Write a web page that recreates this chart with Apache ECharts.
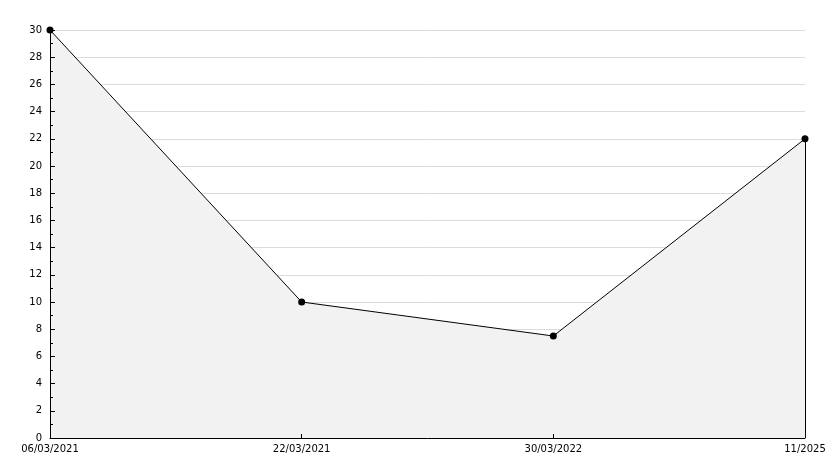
<!DOCTYPE html>
<html><head><meta charset="utf-8">
<script src="https://cdn.jsdelivr.net/npm/echarts@6/dist/echarts.min.js"></script>
<style>html,body{margin:0;padding:0;background:#fff}#c{width:834px;height:468px}</style>
</head><body><div id="c"></div>
<script>
const categories = ['06/03/2021', '22/03/2021', '30/03/2022', '11/2025'];
const values = [30, 10, 7.5, 22];
const yMin = 0, yMax = 30, yStep = 2;

const chart = echarts.init(document.getElementById('c'), null, {renderer: 'canvas'});
const font = 'DejaVu Sans';
chart.setOption({
  animation: false,
  backgroundColor: '#fff',
  grid: {left: 50, right: 29, top: 30, bottom: 30, containLabel: false},
  xAxis: {
    type: 'category', data: categories, boundaryGap: false, z: 10,
    axisLine: {lineStyle: {color: '#000', width: 1}},
    axisTick: {inside: true, length: 4, lineStyle: {color: '#000'}},
    axisLabel: {color: '#000', fontFamily: font, fontSize: 10, margin: 6, showMinLabel: true, showMaxLabel: true, interval: 0},
    splitLine: {show: false}
  },
  yAxis: [{
    type: 'value', min: yMin, max: yMax, interval: yStep, z: 0,
    axisLine: {show: false}, axisTick: {show: false}, axisLabel: {show: false},
    splitLine: {show: true, lineStyle: {color: '#dcdcdc', width: 1}}
  }, {
    type: 'value', min: yMin, max: yMax, interval: yStep, position: 'left', z: 10,
    axisLine: {show: true, lineStyle: {color: '#000', width: 1}},
    axisTick: {show: true, inside: true, length: 5, lineStyle: {color: '#000'}},
    minorTick: {show: true, splitNumber: 2, length: 3, lineStyle: {color: '#000'}},
    axisLabel: {color: '#000', fontFamily: font, fontSize: 10, margin: 8},
    splitLine: {show: false}
  }],
  series: [{
    type: 'line', data: values, yAxisIndex: 0,
    symbol: 'circle', symbolSize: 7,
    itemStyle: {color: '#000'},
    lineStyle: {color: '#000', width: 1},
    areaStyle: {color: '#f2f2f2', opacity: 1},
    markLine: {
      silent: true, symbol: 'none', label: {show: false},
      lineStyle: {color: '#000', width: 1, type: 'solid'},
      data: [[{coord: [categories[categories.length-1], values[values.length-1]]}, {coord: [categories[categories.length-1], yMin]}]]
    }
  }]
});
</script></body></html>
